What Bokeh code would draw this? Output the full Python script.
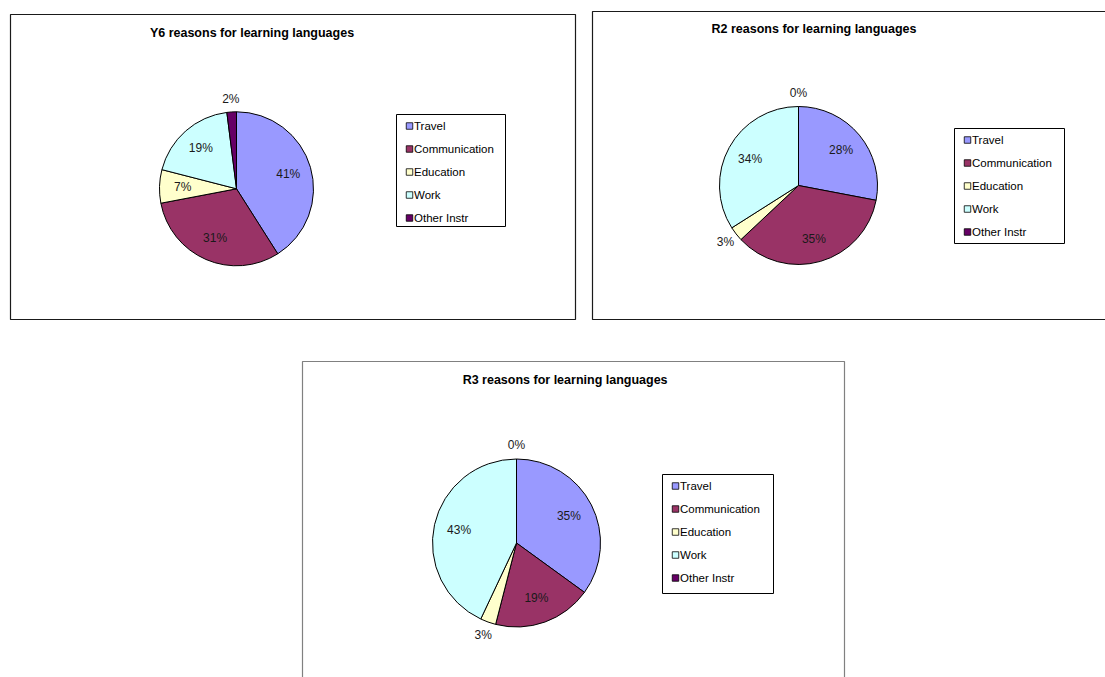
import numpy as np
from bokeh.plotting import figure
from bokeh.models import ColumnDataSource, Range1d
from bokeh.core.properties import value
from bokeh.embed import file_html
from bokeh.resources import INLINE

# ---------------- data ----------------
categories = ["Travel", "Communication", "Education", "Work", "Other Instr"]
colors = ["#9999FF", "#993366", "#FFFFCC", "#CCFFFF", "#660066"]
y6_values = [41, 31, 7, 19, 2]
r2_values = [28, 35, 3, 34, 0]
r3_values = [35, 19, 3, 43, 0]
titles = ["Y6 reasons for learning languages",
          "R2 reasons for learning languages",
          "R3 reasons for learning languages"]
series = [y6_values, r2_values, r3_values]

# ---------------- layout (screen pixels, y downward) ----------------
W, H = 1105, 677
panels = [
    dict(box=(10, 14, 575, 319), border="#1a1a1a", title=(251.5, 32),
         center=(236, 188.3), r=77, legend=(396, 114, 505, 226)),
    dict(box=(592, 11, 1125, 319), border="#1a1a1a", title=(813.5, 28.5),
         center=(798, 185), r=79, legend=(954, 128, 1064, 243)),
    dict(box=(302, 361, 844, 700), border="#808080", title=(564.6, 379),
         center=(516, 542.5), r=84, legend=(662, 474, 773, 593)),
]
FONT = "Liberation Sans"


def Y(y):
    return H - y


p = figure(width=W, height=H, x_range=Range1d(0, W), y_range=Range1d(0, H),
           toolbar_location=None, output_backend="svg", min_border=0)
p.xaxis.visible = False
p.yaxis.visible = False
p.grid.visible = False
p.outline_line_color = None
p.background_fill_color = "white"
p.border_fill_color = "white"

for vals, title, pan in zip(series, titles, panels):
    l, t, rgt, b = pan["box"]
    p.quad(left=[l], right=[rgt], top=[Y(t)], bottom=[Y(b)], fill_color=None,
           line_color=pan["border"], line_width=1.2)

    # title
    tx, ty = pan["title"]
    p.text(x=[tx], y=[Y(ty)], text=[title], text_font=value(FONT),
           text_font_style="bold", text_font_size="12.5px", text_align="center",
           text_baseline="middle", text_color="black")

    # pie
    cx, cy = pan["center"]
    r = pan["r"]
    v = np.array(vals, dtype=float)
    frac = v / v.sum()
    cum_after = np.cumsum(frac)
    cum_before = cum_after - frac
    start = np.pi / 2 - 2 * np.pi * cum_before
    end = np.pi / 2 - 2 * np.pi * cum_after
    keep = v > 0
    src = ColumnDataSource(dict(
        x=[cx] * int(keep.sum()), y=[Y(cy)] * int(keep.sum()),
        start=start[keep], end=end[keep],
        color=[c for c, k in zip(colors, keep) if k]))
    p.wedge(x="x", y="y", radius=r, start_angle="start", end_angle="end",
            direction="clock", fill_color="color", line_color="black",
            line_width=1, source=src)

    # percentage labels
    mid = np.pi / 2 - 2 * np.pi * (cum_before + frac / 2)
    f = np.where(v >= 5, 0.70, 1.17)
    lx = cx + f * r * np.cos(mid)
    ly = Y(cy) + f * r * np.sin(mid)
    p.text(x=lx, y=ly, text=[f"{int(round(x))}%" for x in vals],
           text_font=value(FONT), text_font_size="12px", text_align="center",
           text_baseline="middle", text_color="#1a1a1a")

    # legend
    ll, lt, lr, lb = pan["legend"]
    p.quad(left=[ll], right=[lr], top=[Y(lt)], bottom=[Y(lb)], fill_color="white",
           line_color="black", line_width=1)
    ey = [Y(lt + 11.5 + 23 * i) for i in range(len(categories))]
    p.scatter(x=[ll + 13] * len(categories), y=ey, marker="square", size=6.5,
              fill_color=colors, line_color="black", line_width=0.8)
    p.text(x=[ll + 17.5] * len(categories), y=ey, text=categories,
           text_font=value(FONT), text_font_size="11.5px", text_align="left",
           text_baseline="middle", text_color="black")

open("out.html", "w").write(file_html(p, INLINE))
